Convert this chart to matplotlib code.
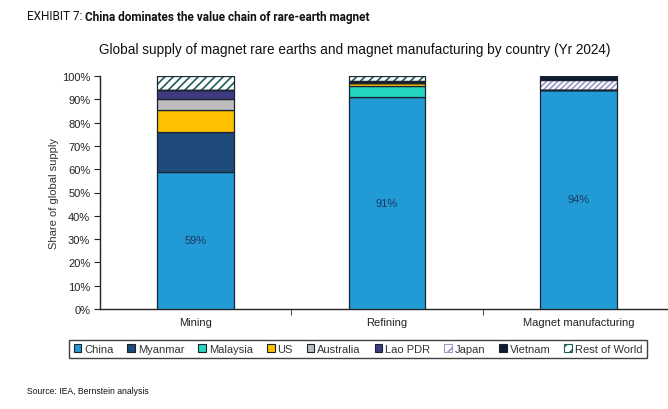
import matplotlib
matplotlib.use("Agg")
import matplotlib.pyplot as plt
import numpy as np
from matplotlib.patches import Patch

# ── data ─────────────────────────────────────────────────────────
stages = ["Mining", "Refining", "Magnet manufacturing"]
countries = ["China", "Myanmar", "Malaysia", "US", "Australia",
             "Lao PDR", "Japan", "Vietnam", "Rest of World"]
china     = [59.0, 91.0, 94.0]
myanmar   = [17.0, 0.0, 0.0]
malaysia  = [0.0, 4.8, 0.0]
us        = [9.5, 1.0, 0.0]
australia = [4.5, 0.0, 0.0]
lao_pdr   = [4.0, 0.0, 0.0]
japan     = [0.0, 0.0, 4.2]
vietnam   = [0.0, 1.2, 1.8]
rest      = [6.0, 2.0, 0.0]
series = [china, myanmar, malaysia, us, australia, lao_pdr, japan, vietnam, rest]
labelled = china  # only China gets a value label

# ── styles ───────────────────────────────────────────────────────
COLORS = ["#219ad6", "#1f4b7a", "#22d6c0", "#ffc000", "#bdbdbd",
          "#403a80", "#ffffff", "#0e1c30", "#ffffff"]
HATCH = [None, None, None, None, None, None, "//////", None, "////"]
HATCH_COL = [None, None, None, None, None, None, "#9c98c8", None, "#1d5e58"]
EDGE = "#1a2430"
FONT = ["Liberation Sans", "DejaVu Sans"]

plt.rcParams.update({
    "font.family": FONT,
    "font.size": 8,
    "hatch.linewidth": 1.2,
})

fig = plt.figure(figsize=(6.68, 4.10), dpi=100, facecolor="white")
ax = fig.add_axes([100 / 668, 100 / 410, 574 / 668, 233 / 410])

x = np.arange(len(stages))
w = 0.4
bottom = np.zeros(len(stages))
for vals, col, h, hc in zip(series, COLORS, HATCH, HATCH_COL):
    vals = np.array(vals)
    if h:
        ax.bar(x, vals, w, bottom=bottom, color=col, hatch=h,
               edgecolor=hc, linewidth=0, zorder=2)
        ax.bar(x, vals, w, bottom=bottom, fill=False,
               edgecolor=EDGE, linewidth=0.9, zorder=3)
    else:
        ax.bar(x, vals, w, bottom=bottom, color=col,
               edgecolor=EDGE, linewidth=0.9, zorder=3)
    bottom += vals

for xi, v in zip(x, labelled):
    ax.text(xi, v / 2, f"{v:.0f}%", ha="center", va="center",
            color="#1d3a5c", fontsize=8, zorder=4)

ax.set_xlim(-0.5, len(stages) - 0.5)
ax.set_ylim(0, 100)
ax.set_yticks(np.arange(0, 101, 10))
ax.set_yticklabels([f"{t}%" for t in range(0, 101, 10)])
ax.set_xticks(x)
ax.set_xticklabels(stages)
ax.set_xticks(np.arange(0.5, len(stages) - 0.5, 1), minor=True)
ax.tick_params(axis="x", which="major", length=0, pad=6, labelsize=8, colors="#222222")
ax.tick_params(axis="x", which="minor", length=4, direction="out", color="#222222")
ax.tick_params(axis="y", length=4, direction="out", labelsize=8, colors="#222222", pad=3)
for s in ["top", "right"]:
    ax.spines[s].set_visible(False)
for s in ["left", "bottom"]:
    ax.spines[s].set_color("#222222")
    ax.spines[s].set_linewidth(1.0)
ax.set_ylabel("Share of global supply", fontsize=8, color="#333333", labelpad=2)

handles = []
for name, col, h, hc in zip(countries, COLORS, HATCH, HATCH_COL):
    if h:
        handles.append(Patch(facecolor=col, edgecolor=hc, hatch="///", linewidth=0.8, label=name))
    else:
        handles.append(Patch(facecolor=col, edgecolor=EDGE, linewidth=0.8, label=name))
leg = fig.legend(handles=handles, loc="center", bbox_to_anchor=(358 / 668, 60 / 410),
                 ncol=9, fontsize=8, frameon=True, fancybox=False,
                 handlelength=0.7, handleheight=0.7, handletextpad=0.25,
                 columnspacing=1.25, borderpad=0.4)
leg.get_frame().set_edgecolor("#111111")
leg.get_frame().set_linewidth(1.0)
for t in leg.get_texts():
    t.set_color("#333333")

fig.text(355 / 668, 1 - 50 / 410,
         "Global supply of magnet rare earths and magnet manufacturing by country (Yr 2024)",
         ha="center", va="center", fontsize=9.8, color="#111111")

NARROW = ["Liberation Sans Narrow", "Roboto", "DejaVu Sans"]
t1 = fig.text(27 / 668, 1 - 17 / 410, "EXHIBIT 7: ", ha="left", va="center",
              fontsize=8.5, family=NARROW, color="#111111")
fig.canvas.draw()
bb = t1.get_window_extent()
fig.text(bb.x1 / fig.bbox.width, 1 - 17 / 410,
         "China dominates the value chain of rare-earth magnet",
         ha="left", va="center", fontsize=8.5, family=NARROW,
         fontweight="bold", color="#111111")

fig.text(27 / 668, 1 - 392 / 410, "Source: IEA, Bernstein analysis",
         ha="left", va="center", fontsize=6.2, color="#111111")

fig.savefig("out.png", dpi=100, facecolor="white")
